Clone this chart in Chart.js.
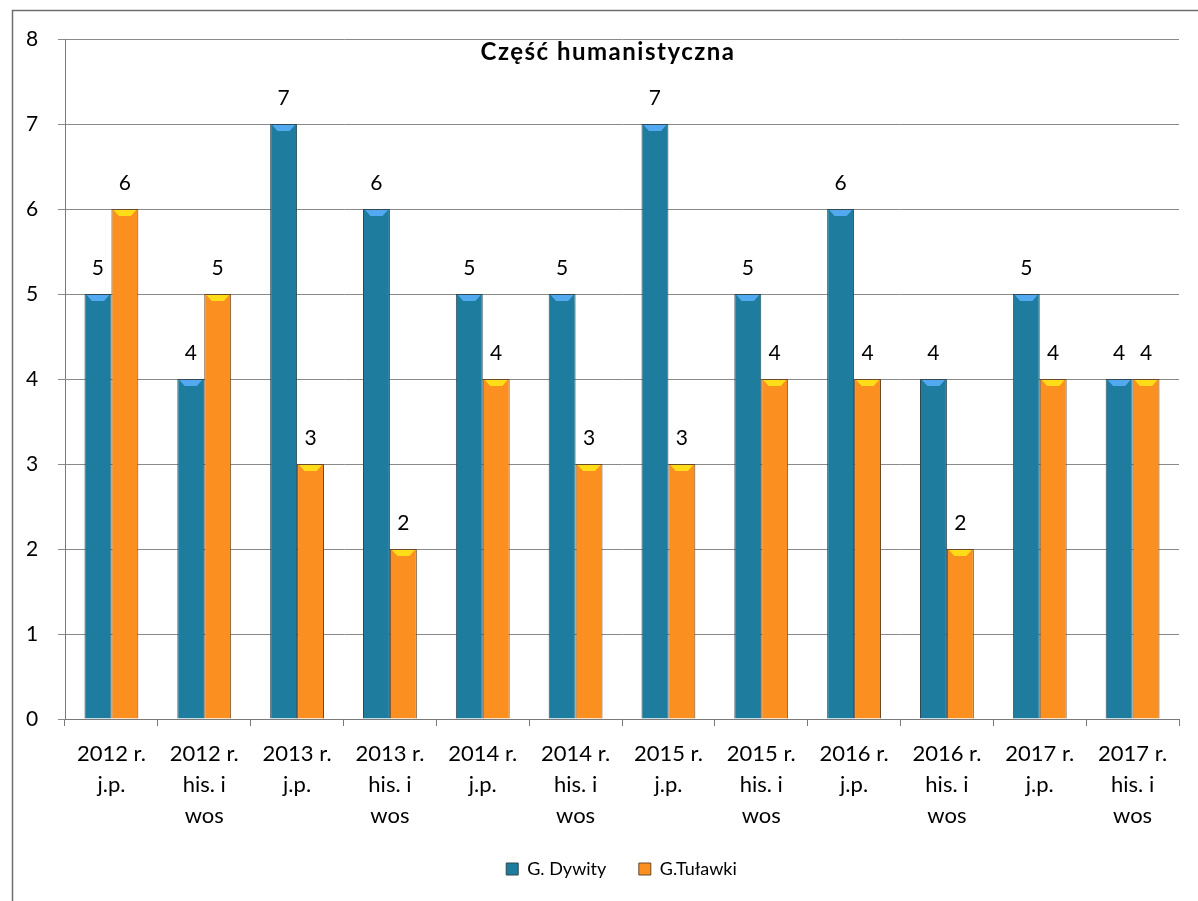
<!DOCTYPE html>
<html lang="pl">
<head>
  <meta charset="UTF-8" />
  <title>Część humanistyczna</title>
  <script src="https://cdn.jsdelivr.net/npm/chart.js"></script>
  <style>
    html, body { margin: 0; padding: 0; background: #fff; }
    #wrap { width: 1198px; height: 901px; position: relative; }
  </style>
</head>
<body>
  <div id="wrap"><canvas id="chart" width="1198" height="901"></canvas></div>
  <script>
    // categories: year + exam part
    const categories = [
      ['2012 r.', 'j.p.'], ['2012 r.', 'his. i', 'wos'],
      ['2013 r.', 'j.p.'], ['2013 r.', 'his. i', 'wos'],
      ['2014 r.', 'j.p.'], ['2014 r.', 'his. i', 'wos'],
      ['2015 r.', 'j.p.'], ['2015 r.', 'his. i', 'wos'],
      ['2016 r.', 'j.p.'], ['2016 r.', 'his. i', 'wos'],
      ['2017 r.', 'j.p.'], ['2017 r.', 'his. i', 'wos']
    ];
    const dywity = [5, 4, 7, 6, 5, 5, 7, 5, 6, 4, 5, 4];
    const tulawki = [6, 5, 3, 2, 4, 3, 3, 4, 4, 2, 4, 4];
    const yTicks = [0, 1, 2, 3, 4, 5, 6, 7, 8];
    const chartTitle = 'Część humanistyczna';

    const FONT = 'Lato, "Open Sans", sans-serif';
    const capColors = ['#52a9ef', '#ffdc18'];

    // outer frame of the chart
    const framePlugin = {
      id: 'frame',
      beforeDraw(chart) {
        const c = chart.ctx;
        c.save();
        c.strokeStyle = '#6f6f6f';
        c.lineWidth = 1.5;
        c.strokeRect(12.5, 10.5, 1300, 1000);
        c.restore();
      }
    };

    // title drawn inside the plot area
    const innerTitle = {
      id: 'innerTitle',
      afterDraw(chart) {
        const c = chart.ctx;
        c.save();
        c.font = 'bold 24px ' + FONT;
        if ('letterSpacing' in c) c.letterSpacing = '1.5px';
        c.fillStyle = '#000';
        c.textAlign = 'center';
        c.textBaseline = 'middle';
        c.fillText(chartTitle, 608, 52);
        c.restore();
      }
    };

    // bevel caps on bar tops and value labels above them
    const barExtras = {
      id: 'barExtras',
      afterDatasetsDraw(chart) {
        const c = chart.ctx;
        c.save();
        chart.data.datasets.forEach((ds, di) => {
          const meta = chart.getDatasetMeta(di);
          meta.data.forEach((bar, i) => {
            const { x, y, width } = bar.getProps(['x', 'y', 'width'], true);
            const h = width / 2;
            c.fillStyle = capColors[di];
            c.beginPath();
            c.moveTo(x - h + 2, y + 1);
            c.lineTo(x + h - 2, y + 1);
            c.lineTo(x + h * 0.45, y + 7);
            c.lineTo(x - h * 0.45, y + 7);
            c.closePath();
            c.fill();

            c.fillStyle = '#000';
            c.font = '21px ' + FONT;
            c.textAlign = 'center';
            c.textBaseline = 'middle';
            c.fillText(String(ds.data[i]), x, y - 26);
          });
        });
        c.restore();
      }
    };

    new Chart(document.getElementById('chart'), {
      type: 'bar',
      data: {
        labels: categories,
        datasets: [
          {
            label: 'G. Dywity\u2003\u2002',
            data: dywity,
            backgroundColor: '#1e7c9e',
            borderColor: '#2f4a55',
            borderWidth: 1,
            categoryPercentage: 0.58,
            barPercentage: 1.0
          },
          {
            label: 'G.Tuławki',
            data: tulawki,
            backgroundColor: '#fb8f1f',
            borderColor: '#6b4a2a',
            borderWidth: 1,
            categoryPercentage: 0.58,
            barPercentage: 1.0
          }
        ]
      },
      options: {
        responsive: false,
        animation: false,
        layout: { padding: { left: 64, right: 19, top: 39, bottom: 13 } },
        plugins: {
          tooltip: { enabled: false },
          legend: {
            position: 'bottom',
            labels: {
              boxWidth: 12,
              boxHeight: 12,
              padding: 10,
              color: '#000',
              font: { family: FONT, size: 18 }
            }
          }
        },
        scales: {
          x: {
            grid: {
              display: true,
              drawOnChartArea: false,
              drawTicks: true,
              tickLength: 7,
              color: '#7a7a7a',
              offset: true
            },
            border: { display: true, color: '#7a7a7a', width: 1 },
            ticks: {
              color: '#000',
              padding: 12,
              maxRotation: 0,
              autoSkip: false,
              font: { family: FONT, size: 22, lineHeight: 1.42 }
            },
            afterFit(scale) { scale.height = 131; }
          },
          y: {
            min: yTicks[0],
            max: yTicks[yTicks.length - 1],
            afterBuildTicks(scale) { scale.ticks = yTicks.map(v => ({ value: v })); },
            grid: {
              color: '#8a8a8a',
              tickLength: 7,
              lineWidth: 1
            },
            border: { display: true, color: '#7a7a7a', width: 1 },
            ticks: {
              color: '#000',
              mirror: true,
              padding: -39,
              font: { family: FONT, size: 21 }
            },
            afterFit(scale) { scale.width = 1; }
          }
        }
      },
      plugins: [framePlugin, innerTitle, barExtras]
    });
  </script>
</body>
</html>
